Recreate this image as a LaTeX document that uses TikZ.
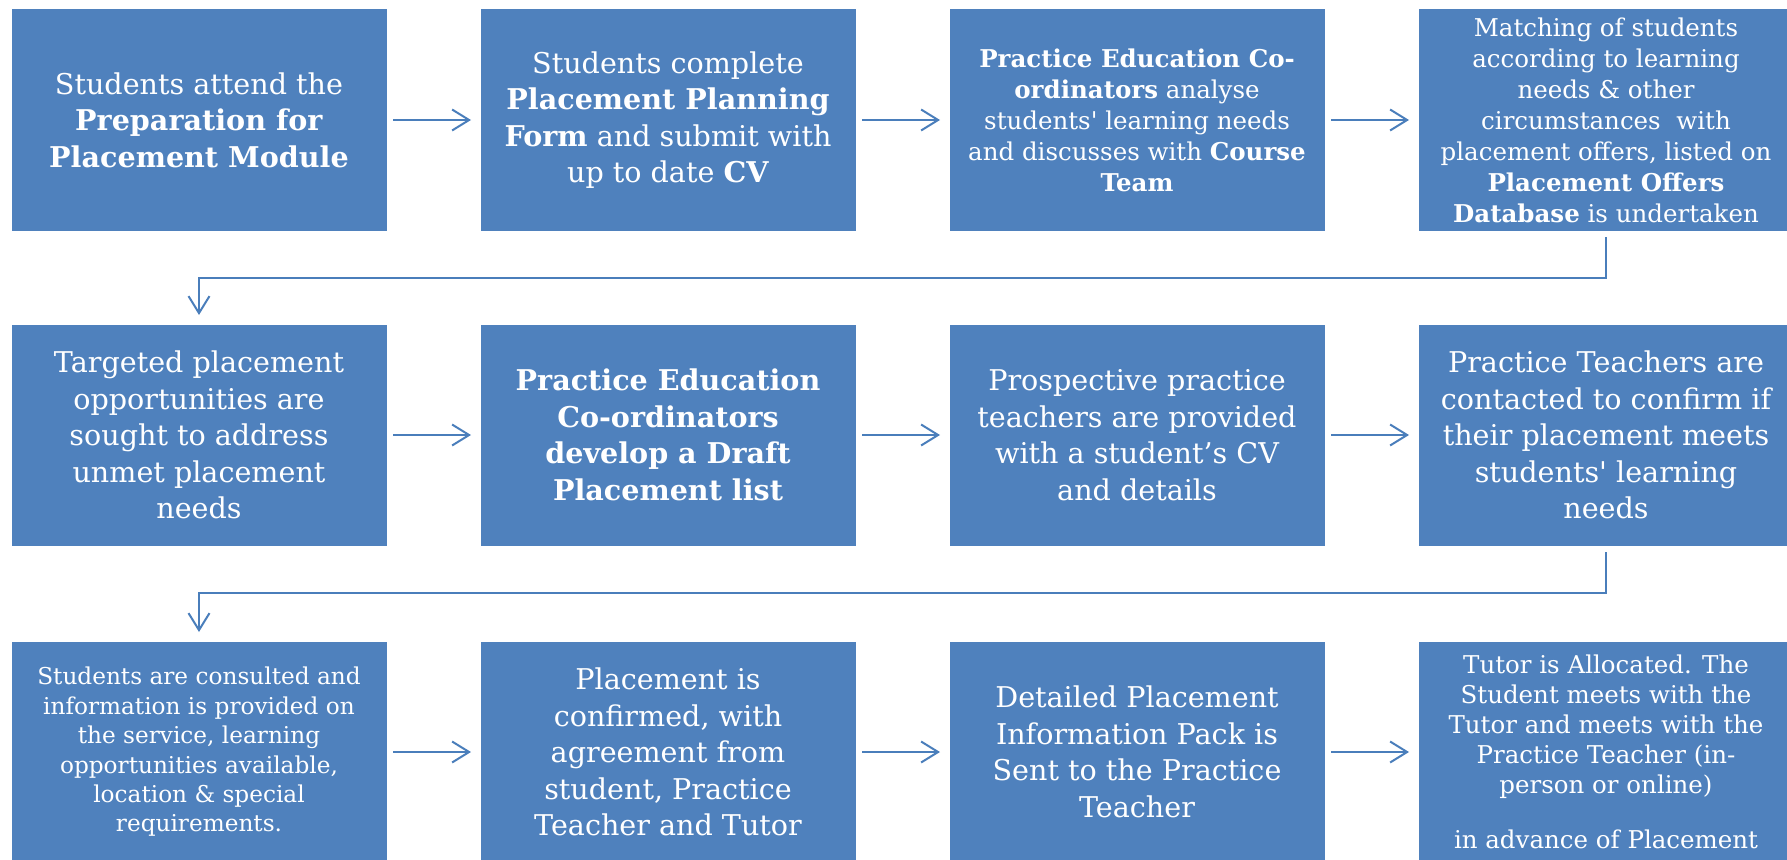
\documentclass[tikz,border=0pt]{standalone}
\usepackage{fontspec}
\setmainfont{DejaVu Serif}
\usepackage{tikz}
\usetikzlibrary{arrows.meta}
\definecolor{boxblue}{HTML}{4F81BD}
\definecolor{lineblue}{HTML}{4A7EBB}
\tikzset{stage/.style={draw=white,line width=1pt,fill=boxblue,text=white,
                       align=center,inner sep=0pt,outer sep=0pt,
                       minimum width=376pt,minimum height=222pt}}
\tikzset{bigtext/.style={font=\fontsize{28.6}{36.5}\selectfont}}
\tikzset{midtext/.style={font=\fontsize{24.5}{31}\selectfont}}
\tikzset{lasttext/.style={font=\fontsize{24.5}{30}\selectfont}}
\tikzset{smltext/.style={font=\fontsize{23.2}{29.4}\selectfont}}
\tikzset{link/.style={draw=lineblue,line width=2pt,shorten <=6pt,shorten >=9pt,
                      -{Straight Barb[length=17pt,width=21pt]}}}

\begin{document}
\begin{tikzpicture}[x=1pt,y=1pt]
    \useasboundingbox (0,0) rectangle (1787,-859);

    % first row
    \foreach \s/\h [count=\hi] in {%
        bigtext/{Students attend the\\ \textbf{Preparation for}\\ \textbf{Placement Module}},
        bigtext/{Students complete\\ \textbf{Placement Planning}\\ \textbf{Form} and submit with\\ up to date \textbf{CV}},
        midtext/{\textbf{Practice Education Co-}\\ \textbf{ordinators} analyse\\ students\textquotesingle\ learning needs\\ and discusses with \textbf{Course}\\ \textbf{Team}},
        midtext/{Matching of students\\ according to learning\\ needs \& other\\ circumstances\ \ with\\ placement offers, listed on\\ \textbf{Placement Offers}\\ \textbf{Database} is undertaken}}{%
        \node[stage,\s] (r1\hi) at (\hi*469-270,-120) {\h};
    }
    % second row
    \foreach \s/\h [count=\hi] in {%
        bigtext/{Targeted placement\\ opportunities are\\ sought to address\\ unmet placement\\ needs},
        bigtext/{\textbf{Practice Education}\\ \textbf{Co-ordinators}\\ \textbf{develop a Draft}\\ \textbf{Placement list}},
        bigtext/{Prospective practice\\ teachers are provided\\ with a student’s CV\\ and details},
        bigtext/{Practice Teachers are\\ contacted to confirm if\\ their placement meets\\ students\textquotesingle\ learning\\ needs}}{%
        \node[stage,\s] (r2\hi) at (\hi*469-270,-435) {\h};
    }
    % third row
    \foreach \s/\h [count=\hi] in {%
        smltext/{Students are consulted and\\ information is provided on\\ the service, learning\\ opportunities available,\\ location \& special\\ requirements.},
        bigtext/{Placement is\\ confirmed, with\\ agreement from\\ student, Practice\\ Teacher and Tutor},
        bigtext/{Detailed Placement\\ Information Pack is\\ Sent to the Practice\\ Teacher},
        lasttext/{Tutor is Allocated. The\\ Student meets with the\\ Tutor and meets with the\\ Practice Teacher (in-\\ person or online)\\[25pt] in advance of Placement}}{%
        \node[stage,\s] (r3\hi) at (\hi*469-270,-752) {\h};
    }

    % arrows along the rows
    \foreach \r in {1,2,3}{
      \foreach \i [count=\j from 2] in {1,2,3}{
        \draw[link] (r\r\i.east) -- (r\r\j.west);
      }
    }
    % from one row to the next
    \draw[link] (r14.south) -- ++(0,-47) -| (r21.north);
    \draw[link] (r24.south) -- ++(0,-47) -| (r31.north);
\end{tikzpicture}
\end{document}
